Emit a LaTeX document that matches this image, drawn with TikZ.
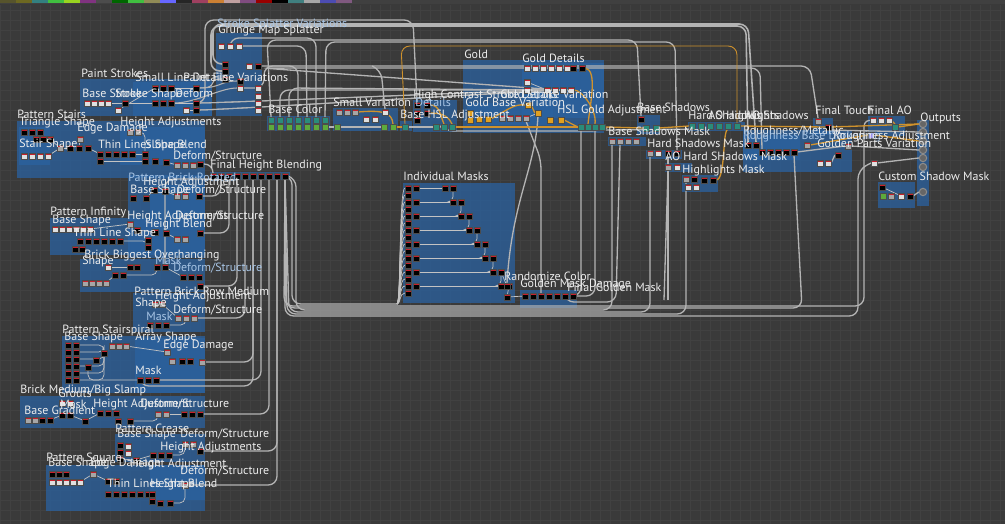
\documentclass[tikz,border=0pt]{standalone}
\usepackage{fontspec}
\setsansfont{PT Sans}
\definecolor{bgc}{HTML}{3A3A3A}
\definecolor{gridc}{HTML}{414141}
\definecolor{frameb}{HTML}{2A62A0}
\definecolor{wireg}{HTML}{B4B4B4}
\definecolor{wireo}{HTML}{D0922C}
\definecolor{ttlc}{HTML}{EDEDED}
\definecolor{ttlb}{HTML}{A9C6E6}
\definecolor{ndred}{HTML}{C8202C}
\definecolor{ndteal}{HTML}{2A8C7A}
\definecolor{ndgreen}{HTML}{5DAA3C}
\definecolor{ndorg}{HTML}{E0A020}
\definecolor{ndpurp}{HTML}{8C78F0}
\pgfdeclarelayer{back}
\pgfdeclarelayer{mid}
\pgfsetlayers{back,mid,main}
\tikzset{
  frame/.style={fill=frameb, fill opacity=0.75},
  ttl/.style={text=ttlc, font=\sffamily\fontsize{6.8}{7.5}\selectfont, anchor=base west, inner sep=0pt},
  ttlf/.style={ttl, text=ttlb},
  wire/.style={draw=wireg, line width=0.75pt, rounded corners=5pt},
  fwire/.style={draw=wireg!80, line width=0.4pt, rounded corners=3pt},
  owire/.style={draw=wireo, line width=0.75pt, rounded corners=5pt},
  box/.style={inner sep=0pt, minimum size=3.3pt, draw=black!70, line width=0.2pt},
  nd/.style={box, fill=black, path picture={\fill[ndred] (path picture bounding box.north west) rectangle ([yshift=-1.1pt]path picture bounding box.north east);}},
  ndg/.style={nd, fill=gray!70},
  ndw/.style={nd, fill=white!75!gray},
  ndt/.style={box, fill=ndteal},
  ndl/.style={box, fill=ndgreen},
  ndo/.style={box, fill=ndorg},
  ndp/.style={box, fill=ndpurp},
  sock/.style={circle, inner sep=0pt, minimum size=4.2pt, draw=gray!90, line width=0.6pt, fill=black!60},
}
% a row of small graph nodes: prefix, x, y, dx, count, style
\newcommand{\ndrow}[6]{\foreach \k in {1,...,#5}{\node[#6] (#1\k) at ({#2+(\k-1)*#4},#3) {};}}

\begin{document}
\begin{tikzpicture}[x=0.02cm,y=-0.02cm]
\useasboundingbox (0,0) rectangle (1005,524);

\begin{pgfonlayer}{back}
\fill[bgc] (0,0) rectangle (1005,524);
\foreach \gx in {0,10,...,1000} \draw[gridc,line width=0.3pt] (\gx,5) -- (\gx,524);
\foreach \gy in {10,20,...,520} \draw[gridc,line width=0.3pt] (0,\gy) -- (1005,\gy);
\fill[black!75] (0,0) rectangle (1005,4);
\foreach \c [count=\i] in {olive!50!black,olive!70!black,teal!60!gray,green!50!gray,yellow!60!green,violet!60!gray,black!70,green!40!black,green!50!gray,olive!40!gray,blue!60!white,black!85,purple!50!gray,orange!60!gray,pink!50!gray,violet!40!gray,red!60!black,black,teal!50!gray,gray!70,gray!60!blue,violet!30!gray}
  \fill[\c] ({(\i-1)*16},0) rectangle ({\i*16},3);

% frames, left column
\fill[frame] (80,79) rectangle (212,116);
\fill[frame] (133,82) rectangle (212,116);
\fill[frame] (216,33) rectangle (262,116);
\fill[frame] (267,116) rectangle (330,131);
\fill[frame] (17,121) rectangle (205,178);
\fill[frame] (19,127) rectangle (50,165);
\fill[frame] (120,127) rectangle (205,165);
\fill[frame] (210,172) rectangle (290,180);
\fill[frame] (128,175) rectangle (205,258);
\fill[frame] (50,218) rectangle (150,255);
\fill[frame] (150,185) rectangle (205,255);
\fill[frame] (80,259) rectangle (205,292);
\fill[frame] (133,293) rectangle (205,332);
\fill[frame] (62,336) rectangle (205,393);
\fill[frame] (135,338) rectangle (205,393);
\fill[frame] (20,396) rectangle (205,428);
\fill[frame] (115,434) rectangle (205,462);
\fill[frame] (46,465) rectangle (205,511);
\fill[frame] (150,465) rectangle (205,500);
% frames, middle
\fill[frame] (333,108) rectangle (398,131);
\fill[frame] (400,121) rectangle (412,131);
\fill[frame] (413,100) rectangle (457,132);
\fill[frame] (463,60) rectangle (604,133);
\fill[frame] (522,63) rectangle (604,118);
\fill[frame] (467,103) rectangle (553,125);
\fill[frame] (403,183) rectangle (515,303);
\fill[frame] (520,290) rectangle (577,308);
% frames, right
\fill[frame] (608,137) rectangle (646,146);
\fill[frame] (637,115) rectangle (660,134);
\fill[frame] (646,150) rectangle (682,159);
\fill[frame] (665,163) rectangle (692,172);
\fill[frame] (682,175) rectangle (718,192);
\fill[frame] (688,122) rectangle (745,131);
\fill[frame] (743,130) rectangle (852,172);
\fill[frame] (743,135) rectangle (800,160);
\fill[frame] (813,118) rectangle (833,135);
\fill[frame] (868,116) rectangle (905,136);
\fill[frame] (917,120) rectangle (929,206);
\fill[frame] (878,182) rectangle (915,208);
\end{pgfonlayer}

% Paint Strokes
\ndrow{ps}{87}{103}{7}{4}{ndw}
\node[nd] (ps5) at (125,103) {};
\node[ndw] (ps6) at (118,110) {};
\ndrow{sl}{155}{88}{8}{3}{nd}
\ndrow{sm}{155}{103}{8}{3}{nd}
\node[nd] (df1) at (196,88) {};
\node[nd] (df2) at (196,103) {};
\node[nd] (df3) at (196,110) {};
\node[ndw] (df4) at (186,110) {};
% Grunge
\ndrow{gr}{221}{46}{9}{3}{ndw}
\node[nd] (gc1) at (225,64) {};
\node[nd] (gc2) at (225,71) {};
\node[nd] (gc3) at (225,79) {};
\node[nd] (gx1) at (240,81) {};
\node[ndw] (gw1) at (249,66) {};
\node[nd] (gw2) at (258,66) {};
\node[ndw] (gw3) at (240,88) {};
\foreach \k/\yy in {1/88,2/96,3/103,4/110} \node[ndw] (gv\k) at (258,\yy) {};
% Base Color
\ndrow{bc}{271}{120}{9}{7}{ndt}
\ndrow{bd}{271}{127}{9}{7}{ndl}
% Pattern Stairs
\ndrow{tr}{24}{132}{8}{3}{nd}
\ndrow{tq}{36}{139}{7}{3}{nd}
\ndrow{st}{24}{156}{8}{4}{ndw}
\node[ndg] (ea1) at (60,148) {};
\ndrow{eb}{70}{148}{9}{3}{nd}
\node[ndg] (ec1) at (80,139) {};
\node[ndg] (ha1) at (130,132) {};
\node[ndg] (ha2) at (138,132) {};
\ndrow{tl}{100}{154}{8}{5}{nd}
\node[nd] (tl6) at (100,161) {};
\node[nd] (sb1) at (145,154) {};
\node[nd] (sb2) at (145,161) {};
\node[nd] (sb3) at (155,161) {};
\node[nd] (sb4) at (166,162) {};
\ndrow{dsa}{177}{165}{8}{3}{ndg}
\node[nd] (dsa4) at (200,164) {};
% Final Height Blending
\ndrow{fh}{213}{176}{8}{10}{nd}
% Brick Rotated
\node[nd] (br1) at (133,198) {};
\node[nd] (br2) at (146,198) {};
\node[nd] (br3) at (154,190) {};
\node[nd] (br4) at (165,191) {};
\ndrow{dr}{177}{196}{8}{2}{ndg}
\node[nd] (dr3) at (199,196) {};
% Infinity
\ndrow{pi}{55}{229}{7}{6}{ndw}
\ndrow{tn}{80}{241}{8}{6}{nd}
\node[nd] (tn7) at (75,249) {};
\node[nd] (tn8) at (82,249) {};
\node[ndg] (ia1) at (130,224) {};
\node[nd] (ia2) at (137,230) {};
\node[nd] (ia3) at (148,240) {};
\node[nd] (ia4) at (148,247) {};
\node[nd] (hb1) at (155,232) {};
\node[nd] (hb2) at (166,233) {};
\ndrow{hbd}{177}{239}{8}{2}{ndg}
\node[nd] (hb3) at (200,233) {};
% Brick Biggest Overhanging
\node[ndw] (bb1) at (108,267) {};
\node[nd] (bb2) at (130,267) {};
\node[nd] (bb3) at (137,267) {};
\ndrow{bbr}{85}{283}{7}{4}{ndg}
\node[nd] (bb5) at (115,275) {};
\node[nd] (bb6) at (123,275) {};
\node[nd] (bm1) at (157,267) {};
\node[nd] (bm2) at (165,267) {};
\ndrow{bdf}{183}{277}{8}{3}{nd}
\node[nd] (bdf4) at (200,286) {};
% Row Medium
\node[ndg] (rm1) at (155,304) {};
\node[ndg] (rm2) at (162,304) {};
\ndrow{rmd}{178}{318}{8}{3}{ndg}
\ndrow{rmm}{150}{325}{8}{3}{nd}
% Stairspiral
\foreach \k in {1,...,6} \node[nd] (ssa\k) at (68,{338+\k*7}) {};
\foreach \k in {1,...,6} \node[nd] (ssb\k) at (76,{338+\k*7}) {};
\ndrow{ssw}{112}{346}{7}{3}{ndg}
\node[nd] (ssc1) at (104,353) {};
\node[nd] (ssc2) at (96,360) {};
\node[nd] (ssc3) at (88,367) {};
\node[ndg] (sse1) at (167,352) {};
\node[ndg] (sse2) at (172,361) {};
\node[nd] (sse3) at (182,361) {};
\node[nd] (sse4) at (190,361) {};
\node[ndg] (sse5) at (202,362) {};
\ndrow{ssm}{140}{380}{8}{3}{nd}
% Brick Medium/Big Slamp
\node[ndg] (bk1) at (28,420) {};
\node[ndg] (bk2) at (35,420) {};
\node[nd] (bk3) at (42,420) {};
\node[nd] (bk4) at (50,420) {};
\node[ndw] (bg1) at (62,403) {};
\node[ndw] (bg2) at (70,403) {};
\node[nd] (bg3) at (62,415) {};
\node[nd] (bg4) at (70,415) {};
\node[nd] (bk5) at (85,421) {};
\ndrow{bha}{100}{413}{8}{3}{nd}
\node[nd] (bk6) at (118,421) {};
\node[nd] (bk7) at (130,421) {};
\ndrow{bkd}{158}{414}{8}{2}{ndg}
\ndrow{bke}{184}{414}{8}{3}{nd}
% Crease
\foreach \k in {1,2,3} \node[nd] (cra\k) at (120,{438+\k*7}) {};
\node[ndw] (crb1) at (128,446) {};
\node[ndw] (crb2) at (128,453) {};
\node[nd] (crb3) at (136,460) {};
\ndrow{crc}{153}{455}{8}{3}{nd}
\ndrow{crd}{185}{444}{8}{2}{ndg}
\node[nd] (cre1) at (200,451) {};
% Square
\ndrow{sqa}{52}{474}{7}{3}{nd}
\ndrow{sqb}{52}{482}{7}{5}{ndw}
\node[ndg] (sqc1) at (93,474) {};
\node[nd] (sqc2) at (108,481) {};
\node[nd] (sqc3) at (116,481) {};
\ndrow{sqd}{108}{494}{8}{6}{nd}
\node[nd] (sqe1) at (152,494) {};
\node[nd] (sqe2) at (152,501) {};
\node[nd] (sqe3) at (160,503) {};
\node[nd] (sqe4) at (170,503) {};
\node[ndg] (sqf1) at (185,485) {};

% Small Variation, HSL, High Contrast
\ndrow{sv}{339}{112}{8}{3}{ndg}
\node[ndw] (sv4) at (385,112) {};
\node[ndw] (sv5) at (366,119) {};
\node[ndw] (sv6) at (375,119) {};
\node[ndl] (sv7) at (384,127) {};
\node[ndl] (sv8) at (393,127) {};
\node[ndl] (sv9) at (337,127) {};
\node[ndt] (bh1) at (405,127) {};
\node[nd] (hn1) at (417,105) {};
\node[nd] (hn2) at (427,105) {};
\node[nd] (hn3) at (417,113) {};
\node[nd] (hn4) at (427,113) {};
\node[nd] (hn5) at (417,120) {};
\ndrow{hc}{436}{127}{8}{3}{ndt}
% Gold
\node[ndo] (go1) at (470,113) {};
\node[ndo] (go2) at (470,120) {};
\node[ndo] (go3) at (479,119) {};
\node[ndo] (go4) at (488,119) {};
\ndrow{gg}{502}{118}{8}{4}{ndg}
\node[ndo] (go5) at (528,105) {};
\node[ndo] (go6) at (538,113) {};
\node[ndo] (go7) at (550,120) {};
\node[ndo] (go8) at (561,120) {};
\ndrow{gd}{527}{68}{8}{6}{ndw}
\node[nd] (gd7) at (573,68) {};
\node[nd] (gd8) at (582,68) {};
\node[ndw] (gd9) at (527,82) {};
\node[ndw] (gd10) at (527,90) {};
\ndrow{gv}{547}{90}{8}{4}{ndw}
\ndrow{gb}{581}{127}{7}{4}{ndt}
% Shadows and masks
\ndrow{bs}{612}{141}{8}{4}{ndg}
\node[nd] (bsh1) at (641,119) {};
\node[ndt] (bsh2) at (646,128) {};
\node[ndt] (bsh3) at (656,128) {};
\node[ndg] (hs1) at (650,153) {};
\node[ndw] (hs2) at (658,153) {};
\node[nd] (hs3) at (668,153) {};
\node[nd] (hs4) at (677,153) {};
\node[ndg] (ao1) at (668,167) {};
\node[ndw] (ao2) at (677,167) {};
\node[ndg] (hl1) at (686,179) {};
\node[nd] (hl2) at (694,179) {};
\node[nd] (hl3) at (704,180) {};
\node[nd] (hl4) at (713,180) {};
\node[ndw] (hl5) at (688,187) {};
\node[ndw] (hl6) at (696,187) {};
\ndrow{sh}{692}{126}{9}{6}{ndt}
% Roughness, Final, Outputs
\node[nd] (rn1) at (748,145) {};
\node[nd] (rn2) at (756,145) {};
\ndrow{rg}{762}{152}{8}{5}{nd}
\node[ndg] (rw1) at (807,145) {};
\node[ndg] (gp1) at (848,146) {};
\node[ndw] (gp2) at (820,163) {};
\node[ndw] (gp3) at (828,163) {};
\node[nd] (gp4) at (838,155) {};
\node[ndg] (ft1) at (818,121) {};
\node[nd] (ft2) at (828,127) {};
\ndrow{fa}{873}{120}{8}{3}{ndw}
\node[ndt] (fa4) at (895,127) {};
\node[ndp] (pu1) at (871,135) {};
\node[ndw] (cw1) at (874,163) {};
\foreach \k/\yy in {1/124,2/132,3/141,4/150,5/158,6/167,7/192} \node[sock] (out\k) at (923,\yy) {};
\node[nd] (cs1) at (882,187) {};
\node[ndl] (cs2) at (883,196) {};
\node[ndg] (cs3) at (891,196) {};
\node[ndw] (cs4) at (901,196) {};
\node[nd] (cs5) at (910,196) {};
% Individual Masks, Golden Mask
\foreach \k in {1,...,16} \node[nd] (ima\k) at (408,{188+(\k-1)*7}) {};
\foreach \k in {1,...,8} \node[nd] (imb\k) at (416,{188+(\k-1)*14}) {};
\foreach \k in {1,...,8} \node[nd] (imc\k) at ({445+(\k-1)*8},{188+(\k-1)*14}) {};
\foreach \k in {1,...,8} \node[nd] (imd\k) at ({453+(\k-1)*8},{188+(\k-1)*14}) {};
\node[nd] (rc1) at (507,286) {};
\node[nd] (rc2) at (507,297) {};
\ndrow{gm}{525}{296}{8}{7}{nd}

\begin{pgfonlayer}{mid}
% small wires inside frames
\draw[fwire] (ps4) -- (ps5);
\draw[fwire] (ps5) -- (sm1);
\draw[fwire] (ps6) -- (sl1);
\draw[fwire] (sl3) -- (df1);
\draw[fwire] (sm3) -- (df2);
\draw[fwire] (df4) -- (df3);
\draw[fwire] (tq3) -- (ea1);
\draw[fwire] (st4) -- (ea1);
\draw[fwire] (ea1) -- (eb1);
\draw[fwire] (ec1) -- (eb2);
\draw[fwire] (eb3) -- (tl1);
\draw[fwire] (tl5) -- (sb1);
\draw[fwire] (tl6) -- (sb2);
\draw[fwire] (ha2) -| (sb1);
\draw[fwire] (sb4) -- (dsa1);
\draw[fwire] (br2) -- (br3);
\draw[fwire] (br4) -- (dr1);
\draw[fwire] (pi6) -- (ia1);
\draw[fwire] (tn6) -| (ia3);
\draw[fwire] (ia2) -- (hb1);
\draw[fwire] (hb2) -- (hbd1);
\draw[fwire] (bb1) -- (bb2);
\draw[fwire] (bbr4) -- (bb5);
\draw[fwire] (bb6) -| (bm1);
\draw[fwire] (bm2) -- (bdf1);
\draw[fwire] (rm2) -- (rmd1);
\draw[fwire] (rmm3) -| (rmd2);
\foreach \k in {1,...,6} \draw[fwire] (ssb\k) -| (ssc1);
\draw[fwire] (ssw3) -- (sse1);
\draw[fwire] (ssc3) |- (ssm1);
\draw[fwire] (bk4) -- (bg3);
\draw[fwire] (bg4) -- (bk5);
\draw[fwire] (bk5) -- (bha1);
\draw[fwire] (bk7) -| (bkd1);
\draw[fwire] (bkd2) -- (bke1);
\draw[fwire] (cra3) -- (crb3);
\draw[fwire] (crb3) -- (crc1);
\draw[fwire] (crc3) -| (crd1);
\draw[fwire] (sqb5) -- (sqc1);
\draw[fwire] (sqc1) -- (sqc2);
\draw[fwire] (sqd6) -- (sqe1);
\draw[fwire] (sqe4) -| (sqf1);
\foreach \k in {1,...,8} \draw[fwire] (imb\k) -- (imc\k);
\foreach \k [evaluate=\k as \j using int(\k+1)] in {1,...,7} \draw[fwire] (imd\k.south) |- (imc\j.west);
\draw[fwire] (imd7) -- (rc1);
\draw[fwire] (imd8) -- (rc2);
\draw[fwire] (rc2) -- (gm1);
\draw[fwire] (gd9) -- (gv1);
\draw[fwire] (gd10) -- (gv1);
\draw[fwire] (gg4) -- (go6);
\draw[fwire] (cs1) -- (cs4);

% paint strokes into grunge
\foreach \a/\b in {df1/gx1,df2/gv1,df2/gv2,df3/gv3,df3/gv4,sm3/gw3,df1/gc3}
  \draw[wire,line width=0.6pt] (\a) .. controls +(25,0) and +(-20,0) .. (\b);
% grunge into base color
\draw[wire] (gr3.east) -- (306,46) -- (bc5.north);
\draw[wire] (gr2.north) -- (230,38) -- (316,38) -- (bc6.north);
\draw[wire] (gv1.east) -- (289,88) -- (bc3.north);
\draw[wire] (gv3.east) -| (bc2.north);
\draw[wire] (gw2.east) -- (298,66) -- (bc4.north);

% long wires over the top
\draw[wire,line width=0.9pt] (gc1.west) -- (213,64) -- (213,24) -- (748,24) -- (rn2.north);
\draw[wire,line width=0.9pt] (gc2.west) -- (211,71) -- (211,26) -- (746,26) -- (rn1.north);
\draw[wire] (df2.east) -- (205,103) -- (205,20) -- (413,20) -- (hn1.north);
\draw[wire] (bc1.north) -- (267,40) -- (637,40) -- (bsh1.north);
\draw[wire] (bc7.north) -- (326,42) -- (675,42) -- (hs4.north);
\draw[wire] (gw3.east) -- (264,88) -- (264,66) -- (810,66) -- (ft1.north);
\draw[wire] (gv2.east) -- (262,68) -- (760,68) -- (rg1.north);
\draw[wire] (sv4.north) -- (381,70) -- (372,66);
\draw[owire,line width=0.5pt] (bh1.north) -- (401,46) -- (737,46) -- (sh6.north);

% left column into Final Height Blending
\draw[wire] (dsa4.east) -| (fh1.north);
\draw[wire] (dr3.east) -| (fh2.south);
\draw[wire] (hb3.east) -| (fh3.south);
\draw[wire] (bdf4.east) -| (fh4.south);
\draw[wire] (rmd3.east) -| (fh5.south);
\draw[wire] (sse5.east) -| (fh6.south);
\draw[wire] (ssm3.east) -| (fh7.south);
\draw[wire] (bke3.east) -| (fh8.south);
\draw[wire] (cre1.east) -| (fh9.south);
\draw[wire] (sqf1.east) -| (fh9.south);
\draw[wire] (bm2.north) |- (fh3.south);
\draw[wire] (ssm1.south) -- (140,386) -| (fh6.south);

% height out, along the bottom
\coordinate (imin) at (397,304);
\draw[wire] (fh10.east) -- (292,176) -- (292,304) -- (imin);
\foreach \k in {1,...,16} \draw[fwire] (imin) .. controls (401,304) and (399,{188+(\k-1)*7}) .. (ima\k.west);
\draw[wire] (fh10.east) -- (296,178) -- (296,310) -- (612,310) -- (bs1.south);
\draw[wire] (fh10.south) -- (289,312) -- (650,312) -- (hs1.south);
\draw[wire] (fh10.south) -- (287,314) -- (686,314) -- (hl1.south);
\draw[wire] (fh10.south) -- (286,308) -- (802,308) -- (rg5.south);
\draw[wire] (fh10.south) -- (285,316) -- (858,316) -- (858,170) -- (cw1.west);
\draw[wire] (fh10.south) -- (284,306) -- (864,306) -- (864,118) -- (fa1.west);
\draw[wire] (hs3.south) -- (668,300);
\draw[wire] (ao1.south) -- (664,300);

% golden mask up to gold and shadows
\draw[wire] (gm7.east) -| (gb1.south);
\draw[wire] (gm7.east) -| (gb3.south);
\draw[wire] (gm6.south) -- (565,302) -- (616,302) -- (bs2.south);
\draw[wire] (gm3.south) -- (541,300) -- (541,160) -- (gg4.south);
\draw[wire] (rc1.north) .. controls (512,200) and (535,170) .. (go6.south);

% main chain
\draw[wire] (bd7.east) -- (sv9.west);
\draw[wire] (sv9.east) -- (sv7.west);
\draw[owire] (sv3.east) .. controls (382,110) and (392,112) .. (sv8.north);
\draw[owire] (sv8.east) -- (bh1.west);
\draw[wire] (bh1.east) -- (hc1.west);
\draw[owire] (hn2.east) .. controls (440,105) and (440,115) .. (hc2.north);
\draw[owire] (hn4.east) .. controls (445,113) and (449,118) .. (hc3.north);
\draw[owire] (hc3.east) -- (gb1.west);
\draw[wire] (hc2.south) -- (445,131) -- (600,131) -- (gb4.south);
\draw[owire] (go4.east) .. controls (510,108) and (515,104) .. (go5.west);
\draw[owire] (go5.east) -- (go6.west);
\draw[owire] (go8.east) -- (gb1.west);
\draw[owire] (gd8.east) .. controls (598,70) and (590,105) .. (gb2.north);
\draw[owire] (gv4.east) .. controls (582,90) and (597,110) .. (gb3.north);
\draw[owire] (gb4.east) -- (bsh2.west);
\draw[wire] (gb4.south east) -- (sh1.south);
\draw[owire] (bsh3.east) -- (sh1.west);
\draw[owire] (hl4.east) .. controls (726,180) and (722,130) .. (sh5.south);
\draw[owire] (sh6.east) -- (ft2.west);
\draw[owire] (ft2.east) -- (out1.west);
\draw[wire] (ft2.south east) -- (out2.west);
\draw[owire] (fa3.east) .. controls (890,120) and (893,122) .. (fa4.north);
\draw[owire] (fa4.east) -- (out1.west);
\draw[owire] (rw1.east) -- (pu1.west);
\draw[owire] (pu1.east) -- (out3.west);
\draw[wire] (rg5.east) -- (gp1.west);
\draw[wire] (gp1.east) -- (out4.west);
\draw[wire] (cw1.east) -- (out5.west);
\draw[wire] (gp3.east) -- (gp4.west);
\draw[wire] (cs5.east) -- (out7.west);
\end{pgfonlayer}

% frame titles
\node[ttlf] (tSSV) at (217,28) {Stroke Splatter Variations};
\node[ttl] (tGMS) at (218,33) {Grunge Map Splatter};
\node[ttl] (tPS) at (81,77) {Paint Strokes};
\node[ttl] (tSLD) at (135,81) {Small Line Details};
\node[ttl] (tPFV) at (183,81) {Paint Fine Variations};
\node[ttl] (tBS0) at (82,97) {Base Stroke};
\node[ttl] (tSS0) at (115,97) {Stroke Shape};
\node[ttl] (tDF0) at (175,97) {Deform};
\node[ttl] (tBC) at (268,113) {Base Color};
\node[ttl] (tPSt) at (17,118) {Pattern Stairs};
\node[ttl] (tTS) at (19,125) {Triangle Shape};
\node[ttl] (tStS) at (19,147) {Stair Shape};
\node[ttl] (tED1) at (77,131) {Edge Damage};
\node[ttl] (tHA1) at (120,125) {Height Adjustments};
\node[ttl] (tTLS1) at (98,148) {Thin Lines Shape};
\node[ttl] (tSB1) at (145,148) {Slope Blend};
\node[ttl] (tDS1) at (173,159) {Deform/Structure};
\node[ttl] (tFHB) at (210,168) {Final Height Blending};
\node[ttlf] (tPBR) at (128,181) {Pattern Brick Rotated};
\node[ttl] (tHA2) at (143,185) {Height Adjustment};
\node[ttl] (tBS2) at (130,193) {Base Shape};
\node[ttl] (tDS2) at (177,193) {Deform/Structure};
\node[ttl] (tPI) at (50,215) {Pattern Infinity};
\node[ttl] (tBS3) at (52,223) {Base Shape};
\node[ttl] (tHA3) at (127,219) {Height Adjustments};
\node[ttl] (tDS3) at (175,219) {Deform/Structure};
\node[ttl] (tHB3) at (145,227) {Height Blend};
\node[ttl] (tTLS3) at (73,236) {Thin Line Shape};
\node[ttl] (tBBO) at (84,258) {Brick Biggest Overhanging};
\node[ttl] (tSh4) at (82,264) {Shape};
\node[ttlf] (tMk4) at (155,264) {Mask};
\node[ttlf] (tDS4) at (173,271) {Deform/Structure};
\node[ttl] (tPBM) at (134,295) {Pattern Brick Row Medium};
\node[ttl] (tHA5) at (155,299) {Height Adjustment};
\node[ttl] (tSh5) at (135,306) {Shape};
\node[ttlf] (tMk5) at (146,320) {Mask};
\node[ttl] (tDS5) at (173,313) {Deform/Structure};
\node[ttl] (tPSS) at (62,333) {Pattern Stairspiral};
\node[ttl] (tBS6) at (64,340) {Base Shape};
\node[ttl] (tAS6) at (135,340) {Array Shape};
\node[ttl] (tED6) at (163,348) {Edge Damage};
\node[ttl] (tMk6) at (135,374) {Mask};
\node[ttl] (tBMB) at (20,393) {Brick Medium/Big Slamp};
\node[ttl] (tGr7) at (58,397) {Grouts};
\node[ttl] (tMk7) at (60,408) {Mask};
\node[ttl] (tBG7) at (24,414) {Base Gradient};
\node[ttl] (tHA7) at (93,407) {Height Adjustment};
\node[ttl] (tDS7) at (140,407) {Deform/Structure};
\node[ttl] (tPC) at (115,432) {Pattern Crease};
\node[ttl] (tBS8) at (117,437) {Base Shape};
\node[ttl] (tDS8) at (180,437) {Deform/Structure};
\node[ttl] (tHA8) at (160,450) {Height Adjustments};
\node[ttl] (tPSq) at (46,461) {Pattern Square};
\node[ttl] (tBS9) at (48,466) {Base Shape};
\node[ttl] (tED9) at (90,466) {Edge Damage};
\node[ttl] (tHA9) at (130,467) {Height Adjustment};
\node[ttl] (tDS9) at (180,474) {Deform/Structure};
\node[ttl] (tTLS9) at (107,487) {Thin Lines Shape};
\node[ttl] (tHB9) at (150,487) {Height Blend};
\node[ttl] (tSV) at (333,106) {Small Variation};
\node[ttlf] (tDet) at (415,106) {Details};
\node[ttl] (tHCS) at (413,98) {High Contrast Stroke Details};
\node[ttl] (tGSV) at (500,98) {Gold Stroke Variation};
\node[ttl] (tBHA) at (400,118) {Base HSL Adjustment};
\node[ttl] (tGold) at (464,58) {Gold};
\node[ttl] (tGD) at (522,62) {Gold Details};
\node[ttl] (tGBV) at (465,106) {Gold Base Variation};
\node[ttl] (tHGA) at (557,113) {HSL Gold Adjustment};
\node[ttl] (tBSh) at (637,112) {Base Shadows};
\node[ttl] (tBSM) at (608,135) {Base Shadows Mask};
\node[ttl] (tHSM) at (647,147) {Hard Shadows Mask};
\node[ttl] (tAHS) at (665,160) {AO Hard SHadows Mask};
\node[ttl] (tHLM) at (682,173) {Highlights Mask};
\node[ttl] (tHS) at (688,119) {Hard Shadows};
\node[ttl] (tAOH) at (708,119) {AO Highlights};
\node[ttl] (tAOS) at (745,119) {AO Shadows};
\node[ttl] (tRM) at (743,134) {Roughness/Metallic};
\node[ttlf] (tRBD) at (743,139) {Roughness Base Darkening};
\node[ttl] (tRA) at (833,139) {Roughness Adjustment};
\node[ttl] (tGPV) at (817,147) {Golden Parts Variation};
\node[ttl] (tFT) at (815,114) {Final Touch};
\node[ttl] (tFAO) at (868,114) {Final AO};
\node[ttl] (tOut) at (920,121) {Outputs};
\node[ttl] (tCSM) at (878,180) {Custom Shadow Mask};
\node[ttl] (tIM) at (403,180) {Individual Masks};
\node[ttl] (tRC) at (504,280) {Randomize Color};
\node[ttl] (tGMD) at (520,287) {Golden Mask Damage};
\node[ttl] (tFGM) at (567,291) {Final Golden Mask};
\end{tikzpicture}
\end{document}
